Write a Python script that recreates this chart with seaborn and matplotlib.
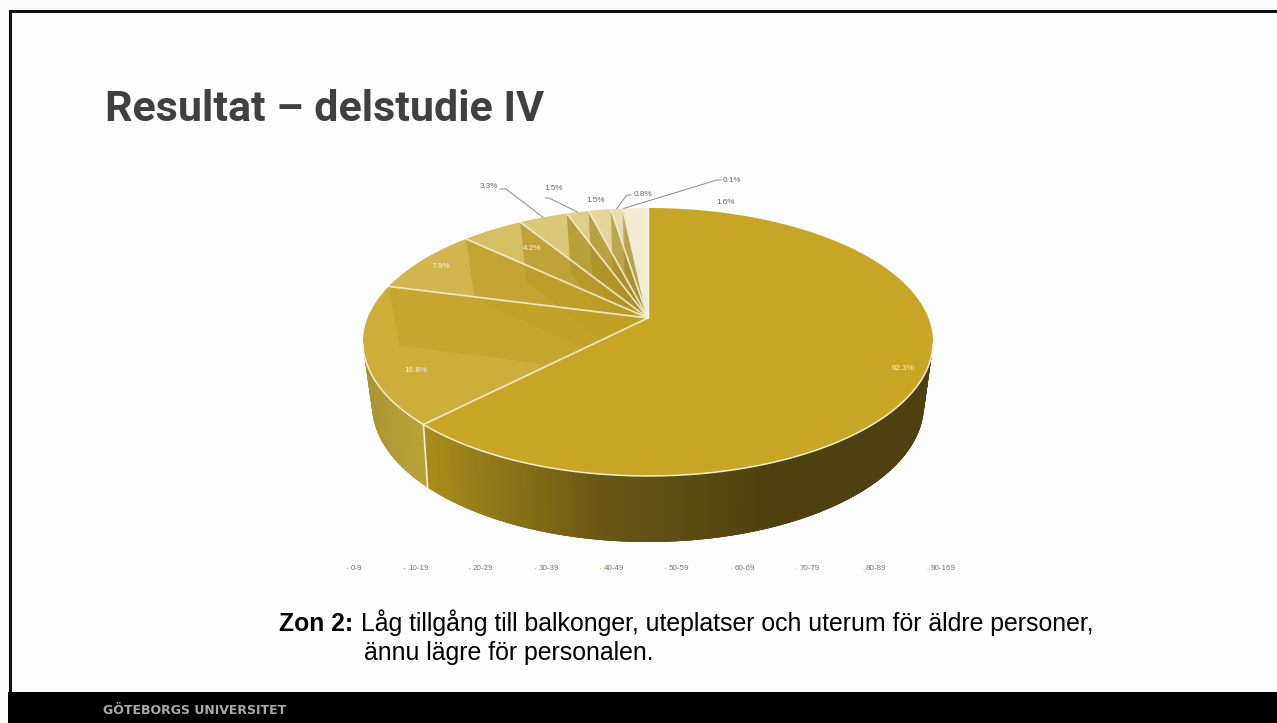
"""Slide: 3D pie of zone 2 shares, delstudie IV."""

from __future__ import annotations

import matplotlib
import numpy as np

matplotlib.use("Agg")
import matplotlib.pyplot as plt  # noqa: E402
import seaborn as sns  # noqa: E402

CATEGORIES = ["0-9", "10-19", "20-29", "30-39", "40-49", "50-59", "60-69", "70-79", "80-89", "90-169"]
SHARES = [62.3, 16.8, 7.9, 4.2, 3.3, 1.5, 1.5, 0.8, 0.1, 1.6]
# fade of the base colour per slice, and of the inner walls seen through it
SLICE_ALPHA = [1.0, 0.9, 0.81, 0.72, 0.62, 0.54, 0.46, 0.37, 0.28, 0.2]
WALL_ALPHA = [0.0, 0.3, 0.33, 0.38, 0.42, 0.44, 0.4, 0.3, 0.2, 0.14]

TITLE = "Resultat – delstudie IV"
CAPTION_HEAD = "Zon 2:"
CAPTION_LINES = ["Låg tillgång till balkonger, uteplatser och uterum för äldre personer,", "ännu lägre för personalen."]
FOOTER = "GÖTEBORGS UNIVERSITET"

BASE = "#c7a626"
WALL = "#7f6814"
EDGE = "#f4eed6"
GREY = "#666666"

# perspective of the two discs in pixels: radius, height, tilt, apex y
CX = 648
TOP = (280.4, 129.7, 0.179, 318)
BOTTOM = (270.4, 131.5, 0.2, 377.6)

# where percent labels sit: (x, y, ha, leader elbow, leader end)
LABEL_LAYOUT = [
    (903, 369, "center", None, None),
    (416, 371, "center", None, None),
    (441, 266, "center", None, None),
    (532, 248, "center", None, None),
    (498, 187, "right", (506, 189), (500, 189)),
    (554, 189, "center", (549, 198), (545, 198)),
    (596, 200, "center", None, None),
    (634, 194, "left", (627, 195), (631, 195)),
    (723, 180, "left", (717, 180), (721, 180)),
    (726, 202, "center", None, None),
]
LEGEND_X = [347, 404, 469, 535, 600, 665, 731, 796, 862, 927]


def project(angle, disc):
    """Angle in degrees clockwise from the top of the pie to picture pixels."""
    radius, height, tilt, apex_y = disc
    rad = np.radians(angle)
    w = 1 + tilt * np.cos(rad)
    return CX + radius * np.sin(rad) / w, apex_y - height * np.cos(rad) / w


def wedge_outline(start, stop, disc):
    angles = np.linspace(start, stop, max(int(stop - start) * 2, 2))
    xs, ys = project(angles, disc)
    return np.r_[CX, xs], np.r_[disc[3], ys]


def draw_outer_wall(ax, start, stop, colour_at):
    # strips overlap the next one so no seams show between them
    step = 0.5
    angles = np.arange(start, stop, step)
    for a0 in angles:
        a1 = min(a0 + 3 * step, stop)
        band = np.linspace(a0, a1, 4)
        x_top, y_top = project(band, TOP)
        x_low, y_low = project(band[::-1], BOTTOM)
        colour = colour_at(x_top[0])
        ax.fill(np.r_[x_top, x_low], np.r_[y_top, y_low], color=colour, lw=0, zorder=3)


def main() -> None:
    sns.set_theme(style="white")
    plt.rcParams["font.family"] = ["Liberation Sans", "DejaVu Sans"]

    fig = plt.figure(figsize=(12.77, 7.23), dpi=100, facecolor="#fbfbfb")
    ax = fig.add_axes([0, 0, 1, 1])
    ax.set_xlim(0, 1277)
    ax.set_ylim(723, 0)
    ax.axis("off")

    # slide background and frame
    ax.fill([9, 1277, 1277, 9], [10, 10, 692, 692], color="#fdfdfd", lw=0, zorder=0)
    ax.plot([9.5, 9.5, 1277], [692, 10.5, 10.5], color="#111111", lw=2.2, zorder=1, solid_joinstyle="miter")
    ax.fill([8, 1277, 1277, 8], [692, 692, 723, 723], color="black", lw=0, zorder=1)

    bounds = np.r_[0, np.cumsum(SHARES)] / np.sum(SHARES) * 360
    mids = (bounds[:-1] + bounds[1:]) / 2

    # slices back to front: inner walls show through the faded tops
    for i in range(len(SHARES) - 1, 0, -1):
        for b in (bounds[i + 1], bounds[i]):
            if b >= 360 or b == bounds[1]:
                continue
            x_rim, y_rim = project(b, TOP)
            x_low, y_low = project(b, BOTTOM)
            ax.fill(
                [CX, x_rim, x_low, CX],
                [TOP[3], y_rim, y_low, BOTTOM[3]],
                color=WALL,
                alpha=WALL_ALPHA[i],
                lw=0,
                zorder=2,
            )
        xs, ys = wedge_outline(bounds[i], bounds[i + 1], TOP)
        ax.fill(xs, ys, color=BASE, alpha=SLICE_ALPHA[i], lw=0, zorder=2)

    # outer wall, the big slice shaded by x
    shade = sns.blend_palette(["#a98d1a", "#6a5714", "#4e410f"], 128)
    light = sns.blend_palette(["#ab9430", "#bba436"], 32)
    draw_outer_wall(
        ax,
        100,
        bounds[1],
        lambda x: shade[int(np.clip((x - 425) / (775 - 425), 0, 1) * 127)],
    )
    draw_outer_wall(
        ax,
        bounds[1],
        260,
        lambda x: light[int(np.clip((x - 363) / (425 - 363), 0, 1) * 31)],
    )

    xs, ys = wedge_outline(bounds[0], bounds[1], TOP)
    ax.fill(xs, ys, color=BASE, lw=0, zorder=4)

    # separators
    for b in bounds[1:-1]:
        x_rim, y_rim = project(b, TOP)
        ax.plot([CX, x_rim], [TOP[3], y_rim], color=EDGE, lw=1.25, zorder=5, alpha=0.9)
    x_rim, y_rim = project(360, TOP)
    ax.plot([CX, x_rim], [TOP[3], y_rim], color="#fbf8ea", lw=1.0, zorder=5)
    x_rim, y_rim = project(bounds[1], TOP)
    x_low, y_low = project(bounds[1], BOTTOM)
    ax.plot([x_rim, x_low], [y_rim, y_low], color=EDGE, lw=1.2, zorder=5)
    arc = np.linspace(101, 259, 200)
    ax.plot(*project(arc, TOP), color=EDGE, lw=1.1, zorder=5)

    # percent labels and leaders
    for i, (share, (x, y, ha, elbow, end)) in enumerate(zip(SHARES, LABEL_LAYOUT)):
        inside = i < 4
        ax.text(
            x, y, f"{share}%", fontsize=5.9, ha=ha, va="center",
            color="#f7f3e2" if inside else GREY, zorder=6,
        )
        if elbow is not None:
            x_rim, y_rim = project(mids[i], TOP)
            ax.plot([x_rim, elbow[0], end[0]], [y_rim, elbow[1], end[1]], color="#8a8a8a", lw=0.7, zorder=6)

    # legend
    palette = [matplotlib.colors.to_rgba(BASE, a) for a in SLICE_ALPHA]
    for x, label, colour in zip(LEGEND_X, CATEGORIES, palette):
        ax.plot([x], [568], marker="o", ms=1.0, mew=0, color=colour, zorder=6)
        ax.text(x + 4, 568, label, fontsize=5.8, ha="left", va="center", color="#777777")

    # slide texts
    ax.text(
        105, 121, TITLE, fontsize=31, fontweight="bold", color="#404040", ha="left", va="baseline",
        family=["Roboto", "Liberation Sans"],
    )
    ax.text(279, 631, CAPTION_HEAD, fontsize=17.8, fontweight="bold", color="black", va="baseline")
    ax.text(361, 631, CAPTION_LINES[0], fontsize=17.9, color="black", va="baseline")
    ax.text(364, 660, CAPTION_LINES[1], fontsize=17.9, color="black", va="baseline")
    ax.text(103, 714, FOOTER, fontsize=9.0, fontweight="bold", color="#a9a9a9", va="baseline", family="DejaVu Sans")

    fig.savefig("out.png", dpi=100, facecolor=fig.get_facecolor())


if __name__ == "__main__":
    main()
